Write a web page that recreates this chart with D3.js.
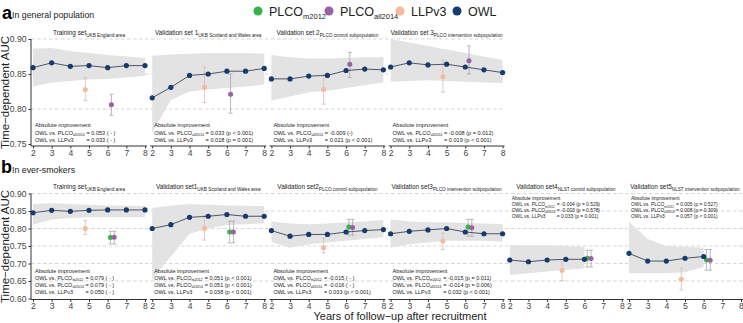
<!DOCTYPE html>
<html><head><meta charset="utf-8">
<script src="https://cdn.jsdelivr.net/npm/d3@7"></script>
<style>
body{margin:0;background:#fff}
svg{font-family:"Liberation Sans",Arial,sans-serif}
</style></head><body>
<svg id="chart" width="743" height="323"></svg>
<script>
// data
const years = [2, 3, 4, 5, 6, 7, 8];
const nlstYears = [2, 3, 4, 5, 6];
const llpYear = 5, plcoYear = 6;

const topTitles = ["Training set", "Validation set 1", "Validation set 2", "Validation set 3"];
const botTitles = ["Training set", "Validation set1", "Validation set2", "Validation set3", "Validation set4", "Validation set5"];
const subTitles = ["UKB England area", "UKB Scotland and Wales area", "PLCO control subpopulation",
  "PLCO intervention subpopulation", "NLST control subpopulation", "NLST intervention subpopulation"];

// a: general population
const topOwl = [
  [0.859, 0.866, 0.861, 0.862, 0.859, 0.862, 0.862],
  [0.816, 0.831, 0.848, 0.850, 0.854, 0.854, 0.858],
  [0.843, 0.843, 0.847, 0.848, 0.855, 0.857, 0.856],
  [0.860, 0.866, 0.863, 0.864, 0.860, 0.856, 0.852]
];
const topOwlHi = [
  [0.886, 0.887, 0.883, 0.880, 0.877, 0.875, 0.873],
  [0.876, 0.878, 0.879, 0.880, 0.880, 0.880, 0.879],
  [0.877, 0.874, 0.872, 0.872, 0.873, 0.874, 0.874],
  [0.900, 0.895, 0.890, 0.885, 0.880, 0.875, 0.870]
];
const topOwlLo = [
  [0.832, 0.838, 0.840, 0.842, 0.843, 0.845, 0.847],
  [0.766, 0.813, 0.825, 0.828, 0.830, 0.832, 0.835],
  [0.812, 0.818, 0.824, 0.826, 0.830, 0.834, 0.838],
  [0.839, 0.840, 0.841, 0.840, 0.839, 0.838, 0.837]
];
const topLlp = [[0.828, 0.812, 0.845], [0.831, 0.809, 0.860], [0.828, 0.807, 0.850], [0.846, 0.824, 0.870]];
const topAll2014 = [[0.806, 0.791, 0.821], [0.821, 0.794, 0.850], [0.864, 0.845, 0.881], [0.869, 0.850, 0.890]];
const topNotes = [
  ["0.053 ( - )", "0.033 ( - )"],
  ["0.033 (p < 0.001)", "0.018 (p = 0.001)"],
  ["-0.009 (-)", "0.021 (p < 0.001)"],
  ["-0.008 (p = 0.012)", "0.019 (p < 0.001)"]
];

// b: ever-smokers
const botOwl = [
  [0.845, 0.852, 0.849, 0.852, 0.853, 0.853, 0.853],
  [0.800, 0.811, 0.832, 0.835, 0.840, 0.835, 0.835],
  [0.794, 0.778, 0.783, 0.783, 0.790, 0.794, 0.797],
  [0.785, 0.792, 0.796, 0.800, 0.790, 0.785, 0.785],
  [0.710, 0.705, 0.710, 0.712, 0.712],
  [0.729, 0.707, 0.707, 0.715, 0.720]
];
const botOwlHi = [
  [0.870, 0.872, 0.870, 0.868, 0.866, 0.865, 0.864],
  [0.859, 0.865, 0.870, 0.868, 0.866, 0.865, 0.864],
  [0.821, 0.814, 0.812, 0.814, 0.817, 0.820, 0.824],
  [0.826, 0.820, 0.818, 0.818, 0.816, 0.814, 0.812],
  [0.753, 0.752, 0.752, 0.750, 0.748],
  [0.820, 0.770, 0.750, 0.748, 0.745]
];
const botOwlLo = [
  [0.811, 0.826, 0.830, 0.832, 0.832, 0.832, 0.832],
  [0.655, 0.720, 0.785, 0.800, 0.810, 0.812, 0.815],
  [0.762, 0.745, 0.755, 0.760, 0.765, 0.770, 0.775],
  [0.745, 0.755, 0.760, 0.765, 0.765, 0.765, 0.762],
  [0.667, 0.672, 0.677, 0.682, 0.686],
  [0.672, 0.672, 0.672, 0.675, 0.690]
];
const botLlp = [[0.800, 0.783, 0.823], [0.800, 0.767, 0.838], [0.745, 0.730, 0.773], [0.764, 0.740, 0.787],
  [0.680, 0.651, 0.705], [0.655, 0.624, 0.686]];
const botM2012 = [[0.774, 0.756, 0.792], [0.790, 0.759, 0.821], [0.804, 0.781, 0.826], [0.804, 0.778, 0.826],
  [0.715, 0.690, 0.738], [0.710, 0.681, 0.740]];
const botAll2014 = [[0.775, 0.756, 0.792], [0.790, 0.759, 0.821], [0.803, 0.781, 0.826], [0.802, 0.778, 0.826],
  [0.714, 0.690, 0.738], [0.709, 0.681, 0.740]];
const botNotes = [
  ["0.079 ( - )", "0.079 ( - )", "0.050 ( - )"],
  ["0.051 (p < 0.001)", "0.051 (p < 0.001)", "0.038 (p < 0.001)"],
  ["-0.015 ( - )", "-0.016 ( - )", "0.033  (p < 0.001)"],
  ["-0.015 (p = 0.011)", "-0.014 (p = 0.006)", "0.032  (p < 0.001)"],
  ["-0.004 (p = 0.529)", "-0.003 (p = 0.578)", "0.033  (p = 0.001)"],
  ["0.005 (p = 0.527)", "0.008 (p = 0.309)", "0.057 (p < 0.001)"]
];

const topTicks = [0.75, 0.80, 0.85, 0.90];
const botTicks = [0.60, 0.65, 0.70, 0.75, 0.80, 0.85, 0.90];

const colM2012 = "#36b24a", colAll2014 = "#98619f", colLlp = "#f6b99c", colOwl = "#173b70";
const legendItems = [["PLCO", "m2012", colM2012], ["PLCO", "all2014", colAll2014], ["LLPv3", "", colLlp], ["OWL", "", colOwl]];

// layout
const svg = d3.select("#chart");
const step = 119.2, left0 = 33, pw = 112;
const xPanel = i => d3.scaleLinear().domain([2, 8]).range([left0 + i * step, left0 + i * step + pw]);
const yTop = d3.scaleLinear().domain([0.75, 0.90]).range([144, 39]);
const yBot = d3.scaleLinear().domain([0.60, 0.90]).range([298.5, 193.5]);

const defs = svg.append("defs");

function subText(sel, main, sub, size, subSize) {
  sel.append("tspan").text(main);
  if (sub) sel.append("tspan").attr("font-size", subSize).attr("dy", size * 0.3).text(sub);
}

function drawRow(opt) {
  const y = opt.y, n = opt.owl.length;
  const g = svg.append("g");
  const xr = [left0 - 2, xPanel(n - 1)(8) + 2];

  // dashed reference lines
  g.selectAll("line.grid").data(opt.grid).join("line")
    .attr("x1", xr[0]).attr("x2", xr[1])
    .attr("y1", d => y(d)).attr("y2", d => y(d))
    .attr("stroke", "#c4c4c4").attr("stroke-width", 0.7).attr("stroke-dasharray", "3.5,2.5");

  // y axis
  const ya = g.append("g").attr("transform", `translate(${left0 - 2},0)`)
    .call(d3.axisLeft(y).tickValues(opt.ticks).tickFormat(d3.format(".2f")).tickSize(2.5).tickPadding(2));
  ya.select(".domain").attr("stroke", "#333").attr("d", `M0,${y(opt.ticks[opt.ticks.length - 1])}V${opt.axisY}`);
  ya.selectAll("text").attr("font-size", 8.6).attr("fill", "#444").attr("font-family", null);
  ya.selectAll("line").attr("stroke", "#333");

  // y title
  g.append("text")
    .attr("transform", `translate(9,${(y.range()[1] + opt.axisY) / 2}) rotate(-90)`)
    .attr("text-anchor", "middle").attr("font-size", 11.5).attr("fill", "#222")
    .text("Time\u2212dependent AUC");

  for (let i = 0; i < n; i++) {
    const x = xPanel(i);
    const yrs = opt.owl[i].length === 7 ? years : nlstYears;
    const pg = g.append("g");
    const cid = `clip${opt.id}${i}`;
    defs.append("clipPath").attr("id", cid).append("rect")
      .attr("x", x(2) - 1).attr("y", y.range()[1] - 4)
      .attr("width", pw + 2).attr("height", opt.axisY - y.range()[1] + 4);

    const band = yrs.map((yr, k) => ({yr, lo: opt.lo[i][k], hi: opt.hi[i][k]}));
    pg.append("path").datum(band)
      .attr("clip-path", `url(#${cid})`)
      .attr("fill", "#e3e3e3")
      .attr("d", d3.area().x(d => x(d.yr)).y0(d => y(d.lo)).y1(d => y(d.hi)));

    // x axis
    const xa = pg.append("g").attr("transform", `translate(0,${opt.axisY})`)
      .call(d3.axisBottom(x).tickValues(years).tickFormat(d3.format("d")).tickSize(2.5).tickPadding(opt.tickPad));
    xa.select(".domain").attr("stroke", "#333").attr("d", `M${x(2) - 2},0H${x(8) + 2}`);
    xa.selectAll("text").attr("font-size", 8.6).attr("fill", "#444").attr("font-family", null);
    xa.selectAll("line").attr("stroke", "#333");

    // title
    const t = pg.append("text").attr("x", (x(2) + x(8)) / 2).attr("y", opt.titleY)
      .attr("text-anchor", "middle").attr("font-size", 6.4).attr("fill", "#222");
    subText(t, opt.titles[i], subTitles[i], 6.4, 4.7);

    // comparators
    const comps = [];
    comps.push({x: llpYear - 0.2, v: opt.llp[i], c: colLlp, bar: "#d8bdb2"});
    if (opt.m2012) {
      comps.push({x: plcoYear + 0.15, v: opt.m2012[i], c: colM2012, bar: "#9fb59f"});
      comps.push({x: plcoYear + 0.35, v: opt.all2014[i], c: colAll2014, bar: "#b0a0b3"});
    } else {
      comps.push({x: plcoYear + 0.2, v: opt.all2014[i], c: colAll2014, bar: "#b0a0b3"});
    }
    const cg = pg.selectAll("g.comp").data(comps).join("g");
    cg.append("path").attr("fill", "none").attr("stroke", d => d.bar).attr("stroke-width", 0.8)
      .attr("d", d => {
        const cx = x(d.x), a = y(d.v[2]), b = y(d.v[1]);
        return `M${cx - 2},${a}H${cx + 2}M${cx},${a}V${b}M${cx - 2},${b}H${cx + 2}`;
      });
    cg.append("circle").attr("cx", d => x(d.x)).attr("cy", d => y(d.v[0])).attr("r", 2.5).attr("fill", d => d.c);

    // OWL
    const pts = yrs.map((yr, k) => ({yr, v: opt.owl[i][k]}));
    pg.append("path").datum(pts).attr("fill", "none").attr("stroke", "#3b4656").attr("stroke-width", 0.9)
      .attr("d", d3.line().x(d => x(d.yr)).y(d => y(d.v)));
    pg.selectAll("circle.owl").data(pts).join("circle").attr("class", "owl")
      .attr("cx", d => x(d.yr)).attr("cy", d => y(d.v)).attr("r", 2.6).attr("fill", colOwl);

    // annotation
    const nb = opt.noteY(i);
    const nx = x(2) + 2;
    const fs = opt.noteFs(i);
    const ng = pg.append("g").attr("font-size", fs).attr("fill", "#222");
    ng.append("text").attr("x", nx).attr("y", nb[0]).text("Absolute improvement");
    let eqX = 0;
    const labels = opt.noteRows.map((r, k) => {
      const tt = ng.append("text").attr("x", nx).attr("y", nb[k + 1]);
      subText(tt, r[0], r[1], fs, fs * 0.65);
      eqX = Math.max(eqX, tt.node().getComputedTextLength());
      return tt;
    });
    labels.forEach((tt, k) => {
      ng.append("text").attr("x", nx + eqX + fs * 0.3).attr("y", nb[k + 1]).text("= " + opt.notes[i][k]);
    });
  }
}

drawRow({
  id: "a", y: yTop, axisY: 146, tickPad: 1.5, owl: topOwl, hi: topOwlHi, lo: topOwlLo, llp: topLlp, all2014: topAll2014,
  grid: [0.80, 0.85, 0.90], ticks: topTicks, titles: topTitles, titleY: 35,
  notes: topNotes, noteRows: [["OWL vs. PLCO", "all2014"], ["OWL vs. LLPv3", ""]],
  noteY: () => [126.5, 134.5, 141.5], noteFs: () => 5.6
});

drawRow({
  id: "b", y: yBot, axisY: 299.5, tickPad: 0.5, owl: botOwl, hi: botOwlHi, lo: botOwlLo, llp: botLlp, m2012: botM2012, all2014: botAll2014,
  grid: [0.65, 0.70, 0.75, 0.80, 0.85, 0.90], ticks: botTicks, titles: botTitles, titleY: 189,
  notes: botNotes, noteRows: [["OWL vs. PLCO", "m2012"], ["OWL vs. PLCO", "all2014"], ["OWL vs. LLPv3", ""]],
  noteY: i => i < 4 ? [273, 279.6, 286.8, 294] : [200.3, 206.2, 211.9, 217.6],
  noteFs: i => i < 4 ? 5.5 : 4.9
});

// headers
svg.append("text").attr("x", 2).attr("y", 19).attr("font-size", 18).attr("font-weight", "bold").text("a");
svg.append("text").attr("x", 12).attr("y", 18).attr("font-size", 8.8).attr("fill", "#222").text("In general population");
svg.append("text").attr("x", 1).attr("y", 173).attr("font-size", 18).attr("font-weight", "bold").text("b");
svg.append("text").attr("x", 12).attr("y", 173).attr("font-size", 8.8).attr("fill", "#222").text("In ever-smokers");

// legend
const lx = [258, 329, 400, 457];
const lg = svg.append("g").selectAll("g").data(legendItems).join("g")
  .attr("transform", (d, i) => `translate(${lx[i]},11)`);
lg.append("circle").attr("r", 4.5).attr("fill", d => d[2]);
lg.each(function (d) {
  const t = d3.select(this).append("text").attr("x", 11).attr("y", 4.5).attr("font-size", 12.5).attr("fill", "#222");
  subText(t, d[0], d[1], 12.5, 7.5);
});

// x title
svg.append("text").attr("x", 400).attr("y", 320).attr("text-anchor", "middle")
  .attr("font-size", 11).attr("fill", "#222").text("Years of follow\u2212up after recruitment");
</script>
</body></html>
